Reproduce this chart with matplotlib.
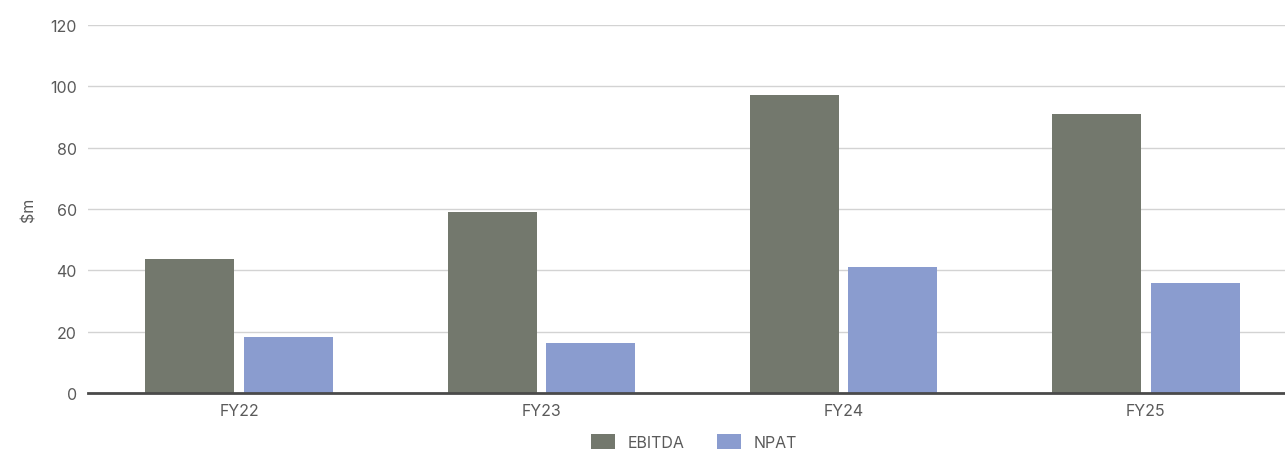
import matplotlib
matplotlib.use("Agg")
import matplotlib.pyplot as plt
import numpy as np

categories = ["FY22", "FY23", "FY24", "FY25"]
ebitda = [43.7, 59.0, 97.2, 91.0]
npat = [18.3, 16.3, 41.1, 35.9]
series_names = ["EBITDA", "NPAT"]
yticks = [0, 20, 40, 60, 80, 100, 120]

plt.rcParams['font.family'] = ['Inter', 'DejaVu Sans']
text_color = "#5a5a5a"

fig = plt.figure(figsize=(12.85, 4.52), dpi=100)
ax = fig.add_axes([88/1285, 1-394/452, (1297-88)/1285, (394-26)/452])

x = np.arange(len(categories))
w = 0.295
off = 0.163
b1 = ax.bar(x - off, ebitda, width=w, color="#73786d", label=series_names[0], zorder=3)
b2 = ax.bar(x + off, npat, width=w, color="#8a9ccf", label=series_names[1], zorder=3)

ax.set_xlim(-0.5, len(categories) - 0.5)
ax.set_ylim(0, 120)
ax.set_yticks(yticks)
ax.set_xticks(x)
ax.set_xticklabels(categories)
ax.yaxis.grid(True, color="#d3d3d3", linewidth=1.0, zorder=0)
ax.set_axisbelow(True)
for s in ["top", "right", "left"]:
    ax.spines[s].set_visible(False)
ax.spines["bottom"].set_color("#4a4a4a")
ax.spines["bottom"].set_linewidth(2)
ax.spines["bottom"].set_zorder(4)
ax.tick_params(axis="both", length=0, labelsize=11.5, colors=text_color)
ax.tick_params(axis="y", pad=8)
ax.tick_params(axis="x", pad=7)
ax.set_ylabel("$m", fontsize=11.5, color=text_color, labelpad=10)

fig.legend(handles=[b1, b2], labels=series_names, loc="center",
           bbox_to_anchor=(694/1285, 1-443/452), ncol=2, frameon=False,
           fontsize=11.5, handlelength=1.5, handleheight=1.1, columnspacing=2.0,
           handletextpad=0.8, labelcolor=text_color)

fig.savefig("out.png", dpi=100)
